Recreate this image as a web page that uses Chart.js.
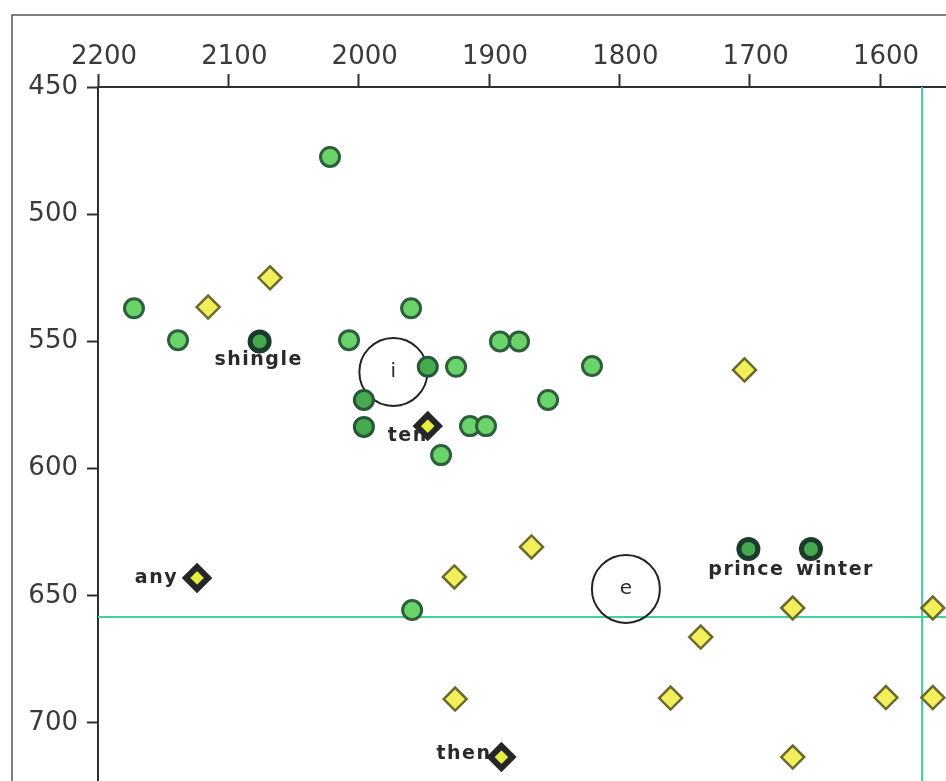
<!DOCTYPE html>
<html>
<head>
<meta charset="utf-8">
<script src="https://cdn.jsdelivr.net/npm/chart.js@4"></script>
<style>
  html, body { margin: 0; padding: 0; background: #ffffff; overflow: hidden; }
  #wrap { position: absolute; left: 0; top: 0; width: 946px; height: 781px; }
</style>
</head>
<body>
<div id="wrap"><canvas id="vowels" width="946" height="781"></canvas></div>
<script>
// Axis ranges and tick values (F2 on the top axis, F1 on the left axis, both reversed)
const f2Min = 2200, f2Max = 1549.4;
const f1Min = 450,  f1Max = 722.8;
const f2Ticks = [2200, 2100, 2000, 1900, 1800, 1700, 1600];
const f1Ticks = [450, 500, 550, 600, 650, 700];

// /i/ tokens
const iF2 = [2022, 2172.4, 2138.6, 2007.4, 1959.8, 1925.3, 1914.6, 1902.3, 1936.8, 1891.6, 1877, 1854.7, 1821, 1959];
const iF1 = [477.5, 537, 549.5, 549.5, 537, 560, 583.3, 583.3, 594.7, 550, 550, 573, 559.7, 655.6];
// /i/ tokens near the mean
const iNearF2 = [1947, 1996, 1996];
const iNearF1 = [560, 573, 583.6];
// /e/ tokens
const eF2 = [2115.5, 2068, 1704, 1926.6, 1867.4, 1926, 1667, 1559.5, 1737.6, 1760.7, 1595.5, 1559.5, 1667];
const eF1 = [536.5, 525, 561.2, 642.6, 630.8, 690.6, 654.8, 654.8, 666.2, 690.2, 690, 690, 713.4];
// Named words
const iWords = ['shingle', 'prince', 'winter'];
const iWordF2 = [2076, 1701, 1653];
const iWordF1 = [550, 631.6, 631.6];
const eWords = ['ten', 'any', 'then'];
const eWordF2 = [1947, 2124, 1890.5];
const eWordF1 = [583.3, 643, 713.4];
// Vowel means
const meanLabels = ['i', 'e'];
const meanF2 = [1973.4, 1795];
const meanF1 = [562, 647.3];
// Reference cursor lines
const refF2 = 1567.8;
const refF1 = 658.3;

const pts = (xs, ys) => xs.map((x, i) => ({ x: x, y: ys[i] }));

// Where each word sits relative to its marker
const wordPlacement = {
  shingle: { align: 'center', dx: -1, dy: 19 },
  ten:     { align: 'right',  dx: 0,  dy: 10 },
  any:     { align: 'right',  dx: -19, dy: 0 },
  then:    { align: 'right',  dx: -10, dy: -3 },
  prince:  { align: 'center', dx: -2, dy: 21 },
  winter:  { align: 'left',   dx: -15, dy: 21 }
};

const TEXT_FONT = 'bold 19px "DejaVu Sans"';

const framePlugin = {
  id: 'frame',
  beforeDraw(chart) {
    const ctx = chart.ctx;
    ctx.save();
    ctx.strokeStyle = '#555555';
    ctx.lineWidth = 1.5;
    ctx.beginPath();
    ctx.moveTo(12, chart.height);
    ctx.lineTo(12, 15);
    ctx.lineTo(chart.width, 15);
    ctx.stroke();
    ctx.restore();
  }
};

const wordPlugin = {
  id: 'words',
  beforeDatasetsDraw(chart) {
    const ctx = chart.ctx;
    ctx.save();
    ctx.font = TEXT_FONT;
    ctx.letterSpacing = '1.5px';
    ctx.fillStyle = '#2a2a2a';
    ctx.textBaseline = 'middle';
    [[5, iWords], [6, eWords]].forEach(([dsIndex, words]) => {
      const meta = chart.getDatasetMeta(dsIndex);
      meta.data.forEach((el, i) => {
        const p = wordPlacement[words[i]];
        ctx.textAlign = p.align;
        ctx.fillText(words[i], el.x + p.dx, el.y + p.dy);
      });
    });
    ctx.restore();
  },
  afterDatasetsDraw(chart) {
    const ctx = chart.ctx;
    ctx.save();
    ctx.font = '20px "DejaVu Sans"';
    ctx.fillStyle = '#2b2b2b';
    ctx.textAlign = 'center';
    ctx.textBaseline = 'middle';
    chart.getDatasetMeta(2).data.forEach((el, i) => {
      ctx.fillText(meanLabels[i], el.x, el.y);
    });
    ctx.restore();
  }
};

const plainTick = v => String(v);

new Chart(document.getElementById('vowels'), {
  type: 'scatter',
  data: {
    datasets: [
      { // 0: vertical cursor
        type: 'line', data: [{ x: refF2, y: f1Min }, { x: refF2, y: f1Max }],
        borderColor: '#3fd2a0', borderWidth: 2, pointRadius: 0, fill: false, order: 30
      },
      { // 1: horizontal cursor
        type: 'line', data: [{ x: f2Min, y: refF1 }, { x: f2Max, y: refF1 }],
        borderColor: '#3fd2a0', borderWidth: 2, pointRadius: 0, fill: false, order: 29
      },
      { // 2: vowel means
        data: pts(meanF2, meanF1), pointStyle: 'circle', pointRadius: 34,
        borderColor: '#222222', borderWidth: 2, backgroundColor: 'rgba(0,0,0,0)', order: 20
      },
      { // 3: /i/ tokens
        data: pts(iF2, iF1), pointStyle: 'circle', pointRadius: 9.5,
        backgroundColor: '#6ad46a', borderColor: '#2e5e3c', borderWidth: 3, order: 6
      },
      { // 4: /i/ tokens near the mean
        data: pts(iNearF2, iNearF1), pointStyle: 'circle', pointRadius: 9.5,
        backgroundColor: '#46aa4e', borderColor: '#27553a', borderWidth: 3, order: 5
      },
      { // 5: named /i/ words
        data: pts(iWordF2, iWordF1), pointStyle: 'circle', pointRadius: 9.5,
        backgroundColor: '#43a84e', borderColor: '#1c3a2b', borderWidth: 5, order: 2
      },
      { // 6: named /e/ words
        data: pts(eWordF2, eWordF1), pointStyle: 'rectRot', pointRadius: 11,
        backgroundColor: '#e6f03c', borderColor: '#262626', borderWidth: 6, order: 1
      },
      { // 7: /e/ tokens
        data: pts(eF2, eF1), pointStyle: 'rectRot', pointRadius: 11.5,
        backgroundColor: '#f2f05a', borderColor: '#6b692e', borderWidth: 2.5, order: 4
      }
    ]
  },
  options: {
    responsive: false,
    animation: false,
    events: [],
    layout: { autoPadding: false, padding: { left: 0, top: 0, right: 0, bottom: 0 } },
    plugins: { legend: { display: false }, tooltip: { enabled: false } },
    scales: {
      x: {
        type: 'linear', position: 'top', reverse: true,
        min: f2Max, max: f2Min,
        afterBuildTicks: s => { s.ticks = f2Ticks.map(v => ({ value: v })); },
        afterFit: s => { s.height = 87; s.paddingLeft = 0; s.paddingRight = 0; },
        border: { display: true, color: '#2e2e2e', width: 2 },
        grid: { drawOnChartArea: false, drawTicks: true, tickLength: 13, tickColor: '#2e2e2e', tickWidth: 2 },
        ticks: { font: { family: 'DejaVu Sans', size: 26 }, color: '#3a3a3a', padding: 1, labelOffset: 6, maxRotation: 0, autoSkip: false, callback: plainTick }
      },
      y: {
        type: 'linear', position: 'left', reverse: true,
        min: f1Min, max: f1Max,
        afterBuildTicks: s => { s.ticks = f1Ticks.map(v => ({ value: v })); },
        afterFit: s => { s.width = 98; s.paddingTop = 0; s.paddingBottom = 0; },
        border: { display: true, color: '#2e2e2e', width: 2 },
        grid: { drawOnChartArea: false, drawTicks: true, tickLength: 11, tickColor: '#2e2e2e', tickWidth: 2 },
        ticks: { font: { family: 'DejaVu Sans', size: 26 }, color: '#3a3a3a', padding: 9, autoSkip: false, callback: plainTick }
      }
    }
  },
  plugins: [framePlugin, wordPlugin]
});
</script>
</body>
</html>
